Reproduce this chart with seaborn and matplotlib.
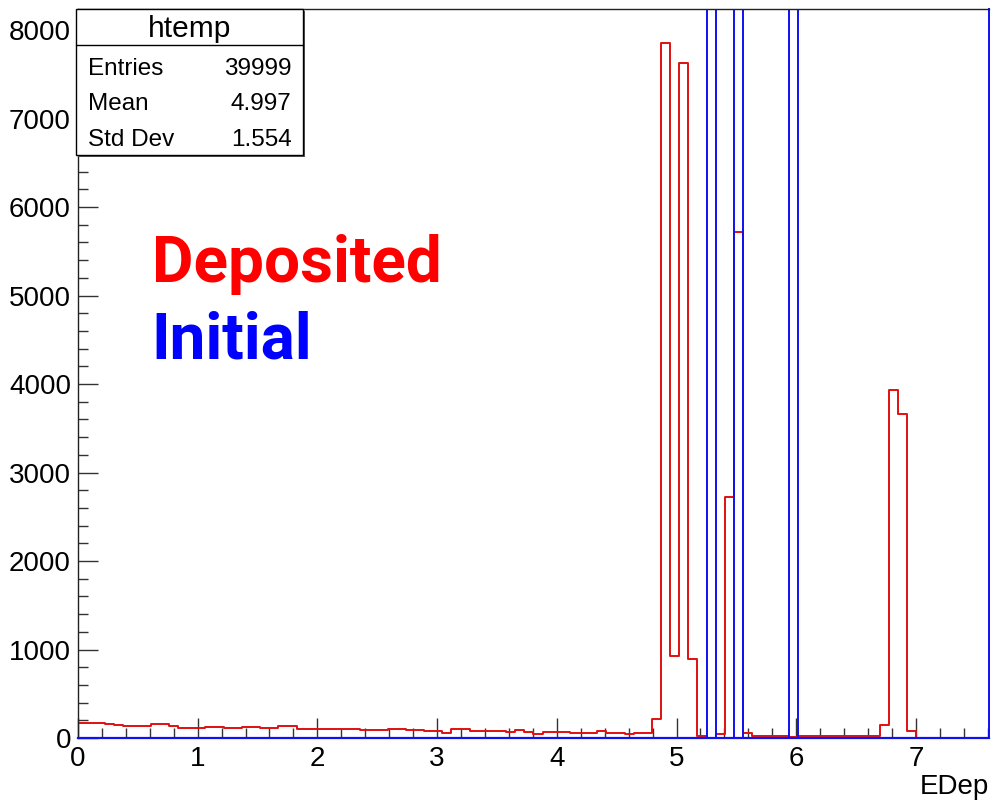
import matplotlib
matplotlib.use("Agg")
import matplotlib.pyplot as plt
from matplotlib.ticker import MultipleLocator
from matplotlib.patches import Rectangle
from matplotlib.lines import Line2D
import numpy as np
import pandas as pd
import seaborn as sns

# histogram binning: 100 bins from 0 to x_max
x_max = 7.61
n_bins = 100

# deposited energy counts per bin
deposited = [
    172, 168, 164, 160, 150, 136, 134, 138, 155, 157,
    134, 116, 115, 118, 126, 128, 118, 108, 126, 124,
    110, 112, 134, 134, 104, 104, 97, 97, 97, 106,
    106, 88, 86, 86, 104, 104, 92, 90, 78, 78,
    58, 97, 97, 80, 78, 78, 78, 71, 85, 63,
    45, 72, 72, 70, 59, 52, 52, 74, 56, 56,
    45, 62, 59, 215, 7850, 932, 7630, 895, 28, 0,
    43, 2727, 5714, 62, 17, 20, 20, 18, 15, 20,
    20, 18, 18, 18, 20, 22, 22, 26, 147, 3932,
    3665, 80, 0, 0, 0, 0, 0, 0, 0, 0,
]

# initial energy: line spectrum, counts above the frame
initial_bins = [69, 72, 78]
initial_counts = [13000, 13000, 13000]

stat_names = ["Entries", "Mean", "Std Dev"]
stat_values = ["39999", "4.997", "1.554"]

edges = np.linspace(0, x_max, n_bins + 1)
centers = 0.5 * (edges[:-1] + edges[1:])
initial = np.zeros(n_bins)
initial[initial_bins] = initial_counts

df = pd.DataFrame({"EDep": centers, "Deposited": deposited, "Initial": initial})

sns.set_style("ticks")
plt.rcParams["font.family"] = ["Liberation Sans", "DejaVu Sans"]
plt.rcParams["text.color"] = "black"
plt.rcParams["xtick.color"] = "black"
plt.rcParams["ytick.color"] = "black"

fig = plt.figure(figsize=(9.99, 8.07), dpi=100)
ax = fig.add_axes([0.078, 0.0855, 0.912, 0.9033])

sns.histplot(data=df, x="EDep", weights="Deposited", bins=n_bins, binrange=(0, x_max),
             element="step", fill=False, color="#e01010", linewidth=1.4, ax=ax)
sns.histplot(data=df, x="EDep", weights="Initial", bins=n_bins, binrange=(0, x_max),
             element="step", fill=False, color="#1010f0", linewidth=1.4, ax=ax)

ax.set_xlim(0, x_max)
ax.set_ylim(0, 8237)
ax.set_xlabel("")
ax.set_ylabel("")

ax.xaxis.set_major_locator(MultipleLocator(1))
ax.xaxis.set_minor_locator(MultipleLocator(0.2))
ax.yaxis.set_major_locator(MultipleLocator(1000))
ax.yaxis.set_minor_locator(MultipleLocator(200))
ax.tick_params(which="both", direction="in", labelsize=20, color="#333333",
               labelcolor="black", width=1)
ax.tick_params(which="major", length=14.5)
ax.tick_params(which="minor", length=7.5)
ax.tick_params(axis="x", pad=6)
ax.tick_params(axis="y", pad=5)

for side in ["top", "left"]:
    ax.spines[side].set_visible(True)
    ax.spines[side].set_color("#222222")
    ax.spines[side].set_linewidth(1)
ax.spines["right"].set_visible(True)
ax.spines["right"].set_color("#1010f0")
ax.spines["right"].set_linewidth(1.4)
ax.spines["bottom"].set_color("#1010f0")
ax.spines["bottom"].set_linewidth(1.6)

fig.text(0.990, 0.025, "EDep", ha="right", va="center", fontsize=20)

# overlay labels
fig.text(0.152, 0.651, "Deposited", color="#ff0000", fontsize=46,
         fontweight="bold", family="Roboto", ha="left", va="baseline")
fig.text(0.152, 0.556, "Initial", color="#0000ff", fontsize=46,
         fontweight="bold", family="Roboto", ha="left", va="baseline")

# stats box
bx0, bx1 = 0.0761, 0.3033
by0, by1 = 0.8079, 0.9888
fig.patches.append(Rectangle((bx0 + 0.002, by0 - 0.002), bx1 - bx0, by1 - by0,
                             transform=fig.transFigure, facecolor="#555555",
                             edgecolor="none", zorder=5))
fig.patches.append(Rectangle((bx0, by0), bx1 - bx0, by1 - by0,
                             transform=fig.transFigure, facecolor="white",
                             edgecolor="black", linewidth=1, zorder=6))
fig.lines.append(Line2D([bx0, bx1], [0.9442, 0.9442], transform=fig.transFigure,
                        color="black", linewidth=1, zorder=7))
fig.text((bx0 + bx1) / 2, 0.9635, "htemp", ha="center", va="center",
         fontsize=21.5, zorder=8)
row_y = [0.915, 0.871, 0.826]
for name, val, yy in zip(stat_names, stat_values, row_y):
    fig.text(0.088, yy, name, ha="left", va="center", fontsize=17.5, zorder=8)
    fig.text(0.292, yy, val, ha="right", va="center", fontsize=17.5, zorder=8)

plt.savefig("out.png", dpi=100)
